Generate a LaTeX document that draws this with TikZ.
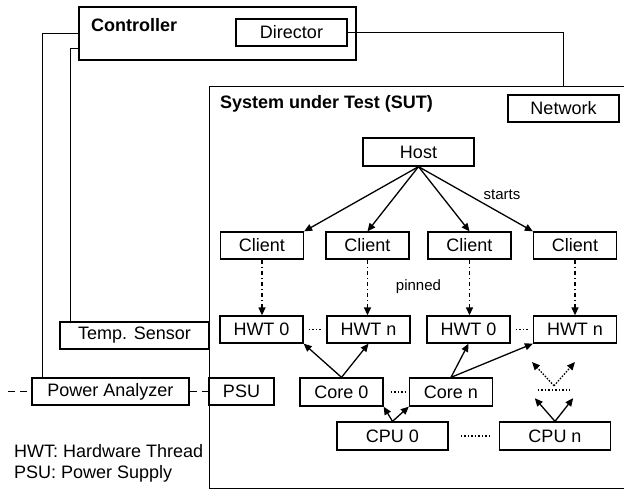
\documentclass[tikz,border=0pt]{standalone}
\usepackage{fontspec}
\setmainfont{Liberation Sans}
\usepackage{tikz}
\usetikzlibrary{
  arrows.meta,
  positioning
}
\tikzset{
  sbox/.style={
    draw, line width=1.3pt, inner sep=0pt, minimum height=27pt,
    font=\fontsize{18}{21}\selectfont
  },
  unitbox/.style={sbox, minimum width=83pt},
  cpubox/.style={sbox, minimum width=111pt, minimum height=28pt},
  panel/.style={draw, line width=1.3pt, inner sep=0pt},
  heading/.style={font=\fontsize{18}{21}\selectfont\bfseries, anchor=base west, inner sep=0pt},
  tag/.style={font=\fontsize{15}{18}\selectfont, inner sep=0pt},
  legendtext/.style={font=\fontsize{18}{21}\selectfont, anchor=base west, inner sep=0pt},
  wire/.style={line width=1.3pt},
  mains/.style={wire, dash pattern=on 7pt off 5pt},
  starts/.style={-{Triangle[length=8pt, width=7pt]}, line width=1.3pt},
  pinned/.style={starts, dash pattern=on 4pt off 3pt on 1.2pt off 3pt},
  dotline/.style={line width=1.3pt, dash pattern=on 1.5pt off 2pt},
  ghostarrow/.style={starts, dash pattern=on 1.5pt off 1.5pt}
}

\begin{document}
\begin{tikzpicture}[x=1pt, y=-1pt]
  \useasboundingbox (0,0) rectangle (624,489);
  % controller side
  \node[panel, minimum width=277pt, minimum height=53pt] (ctrl) at (217.5,33.5) {};
  \node[heading] (ctrllbl) at (91,32) {Controller};
  \node[sbox, minimum width=111pt] (dir) at (291.5,32.5) {Director};
  \node[sbox, minimum width=149pt] (temp) at (134.5,335.5) {Temp. Sensor};
  \node[sbox, minimum width=157pt] (pa) at (110.5,391.5) {Power Analyzer};
  \coordinate (grid) at (8,391.5);
  % system under test
  \node[panel, anchor=north west, minimum width=431pt, minimum height=402pt] (sut) at (209,86) {};
  \node[heading] (sutlbl) at (220,109) {System under Test (SUT)};
  \node[sbox, minimum width=111pt] (net) at (563.5,108.5) {Network};
  \node[sbox, minimum width=65pt] (psu) at (241.5,391.5) {PSU};
  \node[sbox, minimum width=111pt, minimum height=28pt] (host) at (418.5,152) {Host};
  \node[unitbox] (cl1) at (262,245.5) {Client};
  \node[unitbox] (cl2) at (367.5,245.5) {Client};
  \node[unitbox] (cl3) at (469.5,245.5) {Client};
  \node[unitbox] (cl4) at (575,245.5) {Client};
  \node[unitbox] (hwt1) at (261.5,329.5) {HWT 0};
  \node[unitbox] (hwt2) at (368.5,329.5) {HWT n};
  \node[unitbox] (hwt3) at (468.5,329.5) {HWT 0};
  \node[unitbox] (hwt4) at (575,329.5) {HWT n};
  \node[unitbox, minimum height=28pt] (core0) at (341.5,392) {Core 0};
  \node[unitbox, minimum height=28pt] (coren) at (451,392) {Core n};
  \node[inner sep=0pt, minimum width=38pt, minimum height=12pt] (cores) at (554,392) {};
  \coordinate (ghost1) at (532,362);
  \coordinate (ghost2) at (575,362);
  \node[cpubox] (cpu0) at (392.5,436) {CPU 0};
  \node[cpubox] (cpun) at (555,436) {CPU n};
  \node[tag] (startslbl) at (502,195) {starts};
  \node[tag] (pinlbl) at (418.5,287) {pinned};
  \node[legendtext] (leg1) at (14,457) {HWT: Hardware Thread};
  \node[legendtext] (leg2) at (14,478) {PSU: Power Supply};
  % wiring
  \draw[wire] (dir.east) -| (sut.north -| net.north);
  \draw[wire] (ctrl.west) -| ([xshift=11pt]pa.north west);
  \draw[wire] ([yshift=-15pt]ctrl.west) -| ([xshift=11pt]temp.north west);
  \draw[mains] (grid) -- (pa.west);
  \draw[mains] (pa.east) -- (psu.west);
  \draw[starts] (host.south) -- (cl1.north east);
  \draw[starts] (host.south) -- (cl2.north);
  \draw[starts] (host.south) -- (cl3.north);
  \draw[starts] (host.south) -- (cl4.north west);
  \foreach \i in {1,...,4}
    \draw[pinned] (cl\i.south) -- (cl\i.south |- hwt\i.north);
  \draw[dotline, shorten <=5pt, shorten >=4pt] (hwt1.east) -- (hwt2.west);
  \draw[dotline, shorten <=5pt, shorten >=4pt] (hwt3.east) -- (hwt4.west);
  \draw[dotline, shorten <=7pt, shorten >=4pt] (core0.east) -- (coren.west);
  \draw[dotline, shorten <=12pt, shorten >=7pt] (cpu0.east) -- (cpun.west);
  \draw[dotline, shorten <=3pt, shorten >=3pt] ([yshift=2pt]cores.west) -- ([yshift=2pt]cores.east);
  \draw[starts] (core0.north) -- (hwt1.south east);
  \draw[starts] (core0.north) -- (hwt2.south);
  \draw[starts] (coren.north) -- (hwt3.south);
  \draw[starts] (coren.north) -- (hwt4.south west);
  \draw[starts] (cpu0.north) -- (core0.south east);
  \draw[starts] (cpu0.north) -- (coren.south west);
  \draw[starts] (cpun.north) -- (cores.south west);
  \draw[starts] (cpun.north) -- (cores.south east);
  \draw[ghostarrow] (cores.north) -- (ghost1);
  \draw[ghostarrow] (cores.north) -- (ghost2);
\end{tikzpicture}
\end{document}
